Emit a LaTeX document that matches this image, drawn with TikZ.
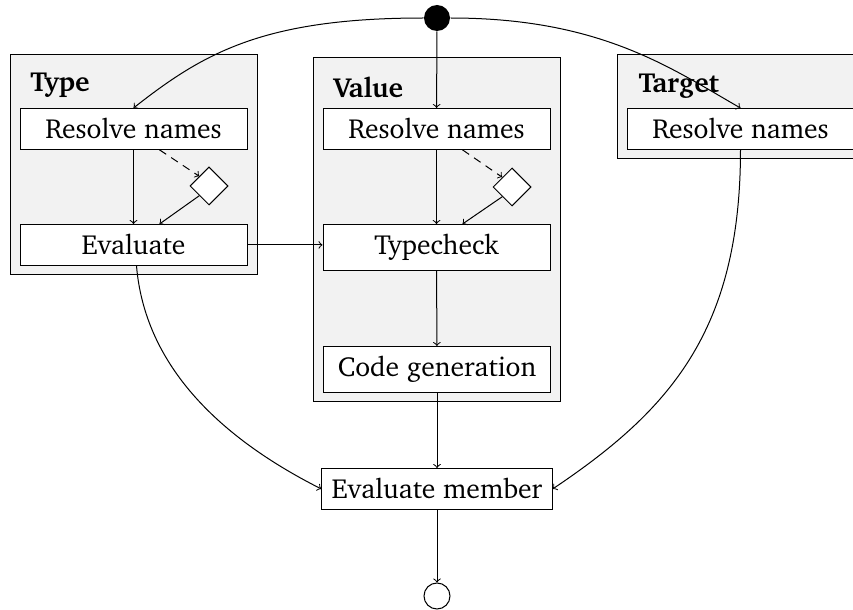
\documentclass[tikz,border=0pt]{standalone}
\usepackage[T1]{fontenc}
\usepackage{charter}
\usetikzlibrary{shapes.geometric,calc}
\definecolor{regionfill}{HTML}{F2F2F2}
\begin{document}
\begin{tikzpicture}[x=0.5pt,y=-0.5pt, line width=0.5pt,
  every node/.style={font=\fontsize{13.8}{16}\selectfont},
  box/.style={draw,fill=white,minimum width=113.5pt,minimum height=20pt,inner xsep=5pt,inner ysep=5pt,anchor=north},
  region/.style={draw,fill=regionfill,anchor=north west,inner sep=0pt},
  rlabel/.style={font=\fontsize{13.8}{16}\selectfont\bfseries,anchor=base west,inner sep=0pt},
  decision/.style={draw,fill=white,diamond,minimum size=19pt,inner sep=0pt},
  flow/.style={->},
  guard/.style={->,dash pattern=on 4pt off 3pt},
]
\useasboundingbox (0,0) rectangle (853,610);

% regions
\node[region,minimum width=123.5pt,minimum height=110pt] (typeR) at (10,54) {};
\node[region,minimum width=123.5pt,minimum height=172pt] (valueR) at (313,57) {};
\node[region,minimum width=125pt,minimum height=52pt] (targetR) at (617,54) {};
\node[rlabel] (typeL) at (30,92) {Type};
\node[rlabel] (valueL) at (333,98) {Value};
\node[rlabel] (targetL) at (638,93) {Target};

% boxes
\node[box] (tres) at (133.5,108) {Resolve names};
\node[box] (teval) at (133.5,224) {Evaluate};
\node[box] (vres) at (436.5,108) {Resolve names};
\node[box] (vcheck) at (436.5,224) {Typecheck};
\node[box] (vgen) at (437,346) {Code generation};
\node[box] (member) at (437,468) {Evaluate member};
\node[box] (gres) at (740.5,108) {Resolve names};

% decisions
\node[decision] (td) at (209,186) {};
\node[decision] (vd) at (512,187) {};

% start / stop
\node[circle,fill=black,minimum size=13pt,inner sep=0pt] (start) at (437,18) {};
\node[circle,draw,fill=white,minimum size=13pt,inner sep=0pt] (stop) at (437,596) {};

% connectors
\draw[flow] (start.west) .. controls +(-160,0) and +(70,-55) .. (tres.north);
\draw[flow] (start.east) .. controls +(150,0) and +(-70,-40) .. (gres.north);
\draw[flow] (start) -- (vres);

\draw[flow] (tres) -- (teval);
\draw[guard] ([xshift=13pt]tres.south) -- (td.north west);
\draw[flow] (td.south west) -- ([xshift=13pt]teval.north);

\draw[flow] (vres) -- (vcheck);
\draw[guard] ([xshift=13pt]vres.south) -- (vd.north west);
\draw[flow] (vd.south west) -- ([xshift=13pt]vcheck.north);

\draw[flow] (teval.east) -- (teval.east -| vcheck.west);
\draw[flow] (vcheck) -- (vgen);
\draw[flow] (vgen) -- (member);
\draw[flow] (member) -- (stop);

\draw[flow] ([xshift=1.5pt]teval.south) .. controls +(9,107) and +(-91,-46) .. (member.west);
\draw[flow] (gres.south) .. controls +(0,182) and +(116,-78) .. (member.east);
\end{tikzpicture}
\end{document}
